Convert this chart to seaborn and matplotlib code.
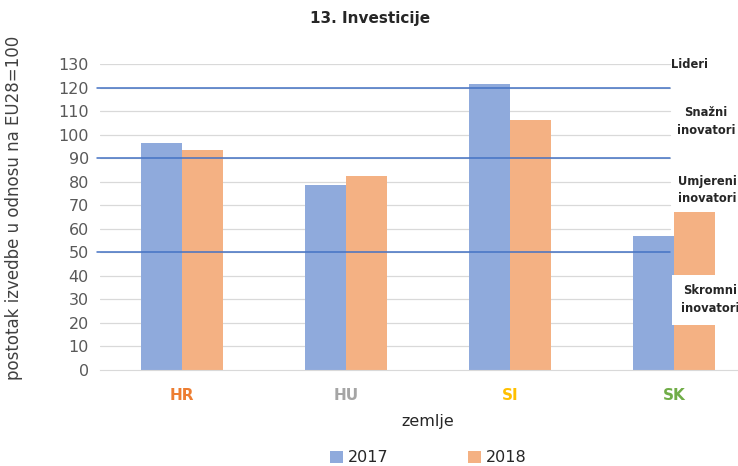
import numpy as np
import pandas as pd
import matplotlib.pyplot as plt
import seaborn as sns

countries = ['HR', 'HU', 'SI', 'SK']
years = ['2017', '2018']
v2017 = [96.5, 78.5, 121.5, 57]
v2018 = [93.5, 82.5, 106, 67]
tick_colors = ['#ED7D31', '#A5A5A5', '#FFC000', '#70AD47']
thresholds = [120, 90, 50]

df = pd.DataFrame({
    'zemlje': countries * 2,
    'godina': ['2017'] * 4 + ['2018'] * 4,
    'vrijednost': v2017 + v2018,
})

sns.set_style('white')
plt.rcParams['font.family'] = ['DejaVu Sans']

fig = plt.figure(figsize=(7.38, 4.66), dpi=100)
ax = fig.add_axes([100 / 738, 1 - 370 / 466, 656 / 738, 306 / 466])

gx = 570 / 656
for y in range(10, 140, 10):
    ax.axhline(y, xmin=0, xmax=gx, color='#D9D9D9', lw=0.9, zorder=0)

sns.barplot(data=df, x='zemlje', y='vrijednost', hue='godina', order=countries,
            hue_order=years, palette=['#8FAADC', '#F4B183'], width=0.5,
            saturation=1, linewidth=0, ax=ax, zorder=2, legend=True)

for y in thresholds:
    ax.axhline(y, xmin=-0.005, xmax=gx, color='#4472C4', lw=1.1, zorder=3, clip_on=False)

ax.set_xlim(-0.5, 3.5)
ax.set_ylim(0, 130)
ax.set_yticks(range(0, 140, 10))
ax.tick_params(axis='y', length=0, labelsize=11.5, colors='#595959', pad=8)
ax.tick_params(axis='x', length=0, pad=13)
for lab, c in zip(ax.get_xticklabels(), tick_colors):
    lab.set_color(c)
    lab.set_fontweight('bold')
    lab.set_fontsize(11)
for s in ['top', 'right', 'left']:
    ax.spines[s].set_visible(False)
ax.spines['bottom'].set_color('#D9D9D9')
ax.spines['bottom'].set_zorder(4)

ax.set_xlabel('zemlje', fontsize=11.5, color='#262626', labelpad=8)
ax.set_ylabel('')
fig.text(14 / 738, 1 - 208 / 466, 'postotak izvedbe u odnosu na EU28=100',
         rotation=90, ha='center', va='center', fontsize=12, color='#404040')

fig.text(370 / 738, 1 - 18 / 466, '13. Investicije', ha='center', va='center',
         fontsize=11, fontweight='bold', color='#262626')

ax.get_legend().remove()
h, l = ax.get_legend_handles_labels()
fig.legend(h, l, loc='center', bbox_to_anchor=(428 / 738, 1 - 458 / 466), ncol=2,
           frameon=False, fontsize=11.5, handlelength=0.8, handleheight=0.8,
           columnspacing=5, handletextpad=0.3, labelcolor='#262626')

zkw = dict(ha='center', va='center', fontsize=8.3, fontweight='bold', color='#262626',
           linespacing=1.5)
fig.text(690 / 738, 1 - 64 / 466, 'Lideri', **zkw)
fig.text(706 / 738, 1 - 122 / 466, 'Snažni\ninovatori', **zkw)
fig.text(707 / 738, 1 - 190 / 466, 'Umjereni\ninovatori', **zkw)
fig.text(710 / 738, 1 - 300 / 466, 'Skromni\ninovatori', zorder=5,
         bbox=dict(facecolor='white', edgecolor='none', boxstyle='square,pad=0.8'), **zkw)

fig.savefig('out.png', dpi=100)
